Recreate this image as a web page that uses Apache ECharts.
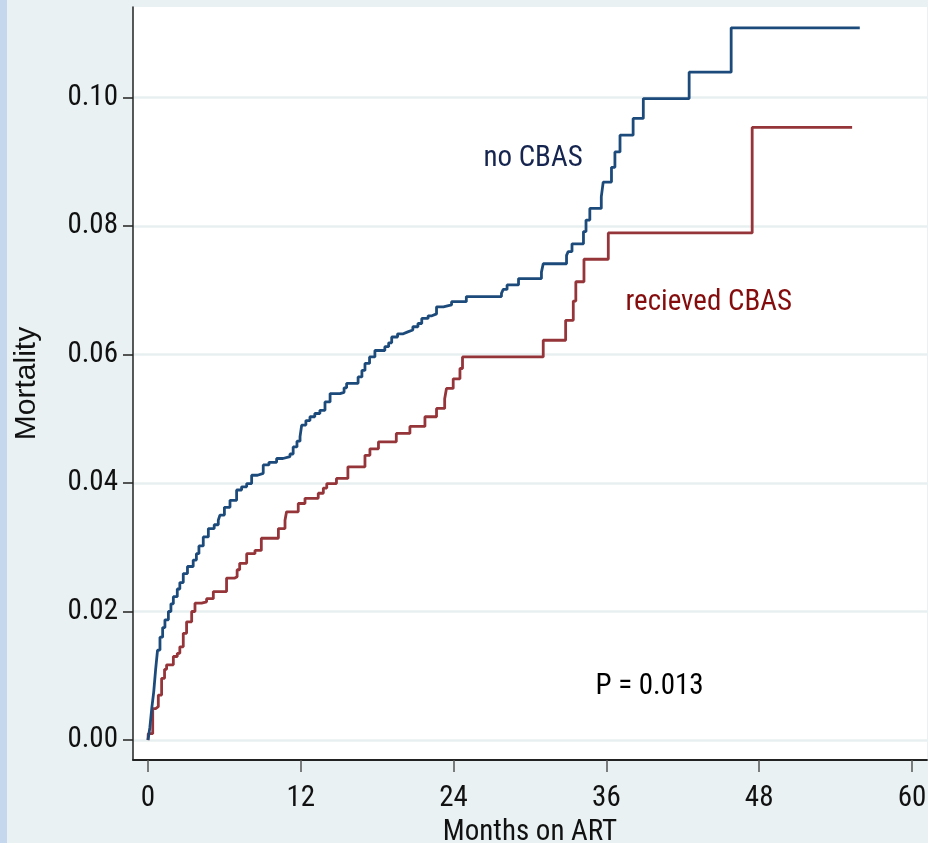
<!DOCTYPE html>
<html>
<head>
<meta charset="utf-8">
<script src="https://cdn.jsdelivr.net/npm/echarts@6/dist/echarts.min.js"></script>
<style>
html,body{margin:0;padding:0;background:#e9f1f3;}
#chart{width:928px;height:843px;}
</style>
</head>
<body>
<div id="chart"></div>
<script>
// ---- data (Kaplan-Meier style step curves) ----
const noCbasTime = [0,0.15,0.3,0.45,0.6,0.75,0.94,1.15,1.33,1.6,1.8,1.99,2.3,2.5,2.77,3.1,3.55,3.8,4.0,4.34,4.74,5.2,5.52,5.65,6.0,6.44,6.96,7.35,7.75,8.14,8.6,9.05,9.5,10.1,10.6,11.15,11.4,11.7,11.94,12.07,12.4,12.72,13.1,13.5,13.9,14.3,15.08,15.4,15.6,16.5,16.8,17.04,17.4,17.82,18.6,18.9,19.14,19.6,20.05,20.4,20.8,21.2,21.5,22.0,22.3,22.66,23.2,23.84,25.0,27.76,27.9,28.2,29.1,30.9,31.04,32.87,33.0,33.3,34.2,34.4,34.7,35.6,35.75,36.4,36.67,37.07,38.1,38.9,42.5,45.8,55.9];
const noCbasMort = [0,0.002,0.005,0.0075,0.011,0.014,0.016,0.0175,0.0187,0.020,0.0212,0.0223,0.0235,0.0245,0.0259,0.027,0.028,0.029,0.0302,0.0316,0.0329,0.0335,0.0342,0.035,0.0362,0.0373,0.0389,0.0394,0.0399,0.0412,0.0415,0.0428,0.0432,0.0438,0.0441,0.0445,0.0456,0.0465,0.0472,0.0490,0.0497,0.0503,0.0508,0.0513,0.0526,0.0539,0.0541,0.0548,0.0555,0.0565,0.0575,0.0586,0.0596,0.0606,0.0612,0.0618,0.0627,0.0632,0.0635,0.0638,0.0643,0.0648,0.0656,0.066,0.0663,0.0674,0.0677,0.0682,0.0690,0.0695,0.0701,0.0708,0.0718,0.0728,0.0741,0.0754,0.0760,0.0772,0.0791,0.0809,0.0827,0.0845,0.0868,0.0891,0.0915,0.0941,0.0967,0.0998,0.1039,0.1108,0.1108];

const cbasTime = [0,0.02,0.37,0.6,0.81,1.07,1.3,1.46,1.99,2.3,2.5,2.77,3.03,3.43,3.69,4.21,4.6,5.13,6.17,6.82,7.0,7.2,7.75,8.4,8.9,10.24,10.76,10.88,11.8,12.33,13.37,13.77,14.04,14.8,15.7,17.04,17.43,18.1,19.5,20.57,21.75,22.66,23.3,23.44,23.97,24.5,24.7,31.04,32.8,33.4,33.6,34.24,36.15,47.45,55.3];
const cbasMort = [0,0.001,0.0049,0.0052,0.007,0.0096,0.011,0.0117,0.013,0.0135,0.0145,0.0166,0.0184,0.020,0.0213,0.0215,0.022,0.0231,0.0252,0.0254,0.0265,0.0275,0.029,0.0295,0.0314,0.0329,0.0342,0.0355,0.0368,0.0376,0.0384,0.0392,0.0399,0.0407,0.0425,0.0443,0.0453,0.0464,0.0477,0.0488,0.0503,0.0516,0.0531,0.0547,0.0562,0.0578,0.0596,0.0622,0.0653,0.0683,0.0713,0.0748,0.0789,0.0953,0.0953];

const xTicks = [0,12,24,36,48,60];
const yTicks = [0,0.02,0.04,0.06,0.08,0.10];

const annotationTexts = ['no CBAS','recieved CBAS','P = 0.013'];
const annotationX = [26.3,37.46,35.1];
const annotationY = [0.0904,0.0681,0.00824];
// ------------------------------------------------------------------------

const NARROW = '"Roboto Condensed","DejaVu Sans Condensed",sans-serif';
const BLUE = '#1c4b7b';
const RED = '#953439';

const zip = (a,b) => a.map((v,i)=>[v,b[i]]);
const annColors = ['#16254f','#850c0c','#000000'];
const annSizes = [29,29,29];

const chart = echarts.init(document.getElementById('chart'), null, {renderer:'canvas'});
chart.setOption({
  animation:false,
  backgroundColor:'#e9f1f3',
  graphic:[{type:'rect',left:0,top:0,shape:{width:7,height:843},style:{fill:'#c4d7ec'},silent:true}],
  grid:{left:133,right:1,top:7,bottom:83,containLabel:false,outerBoundsMode:'none',
        show:true,backgroundColor:'#ffffff',borderWidth:0},
  xAxis:{
    type:'value',min:-1.178,max:61.18,
    name:'Months on ART',nameLocation:'middle',nameGap:56,
    nameTextStyle:{fontFamily:NARROW,fontSize:29,color:'#111'},
    axisLine:{show:true,onZero:false,lineStyle:{color:'#222',width:1.8}},
    axisTick:{show:true,customValues:xTicks,length:12,lineStyle:{color:'#555',width:1.5}},
    axisLabel:{customValues:xTicks,margin:24,fontFamily:NARROW,fontSize:29,color:'#111',formatter:v=>String(v)},
    splitLine:{show:false}
  },
  yAxis:{
    type:'value',min:-0.0031,max:0.11404,
    name:'Mortality',nameLocation:'middle',nameGap:91,nameRotate:90,
    nameTextStyle:{fontFamily:'"Liberation Sans",Arial,sans-serif',fontSize:30,color:'#111'},
    axisLine:{show:true,onZero:false,lineStyle:{color:'#222',width:1.5}},
    axisTick:{show:true,customValues:yTicks,length:10,lineStyle:{color:'#222',width:1.5}},
    axisLabel:{customValues:yTicks,margin:15,fontFamily:NARROW,fontSize:29,color:'#111',formatter:v=>v.toFixed(2)},
    splitLine:{show:true,lineStyle:{color:'#e8eff1',width:2.5}}
  },
  series:[
    {type:'line',name:'no CBAS',step:'end',showSymbol:false,data:zip(noCbasTime,noCbasMort),
     lineStyle:{color:BLUE,width:2.8},itemStyle:{color:BLUE},z:3},
    {type:'line',name:'recieved CBAS',step:'end',showSymbol:false,data:zip(cbasTime,cbasMort),
     lineStyle:{color:RED,width:2.8},itemStyle:{color:RED},z:2},
    {type:'scatter',symbolSize:1,itemStyle:{color:'rgba(0,0,0,0)'},silent:true,z:4,
     emphasis:{disabled:true},
     data:annotationTexts.map((t,i)=>({value:[annotationX[i],annotationY[i]],
       label:{show:true,position:'right',distance:0,formatter:t,opacity:1,
              fontFamily:NARROW,fontSize:annSizes[i],color:annColors[i]}}))}
  ]
});
</script>
</body>
</html>
